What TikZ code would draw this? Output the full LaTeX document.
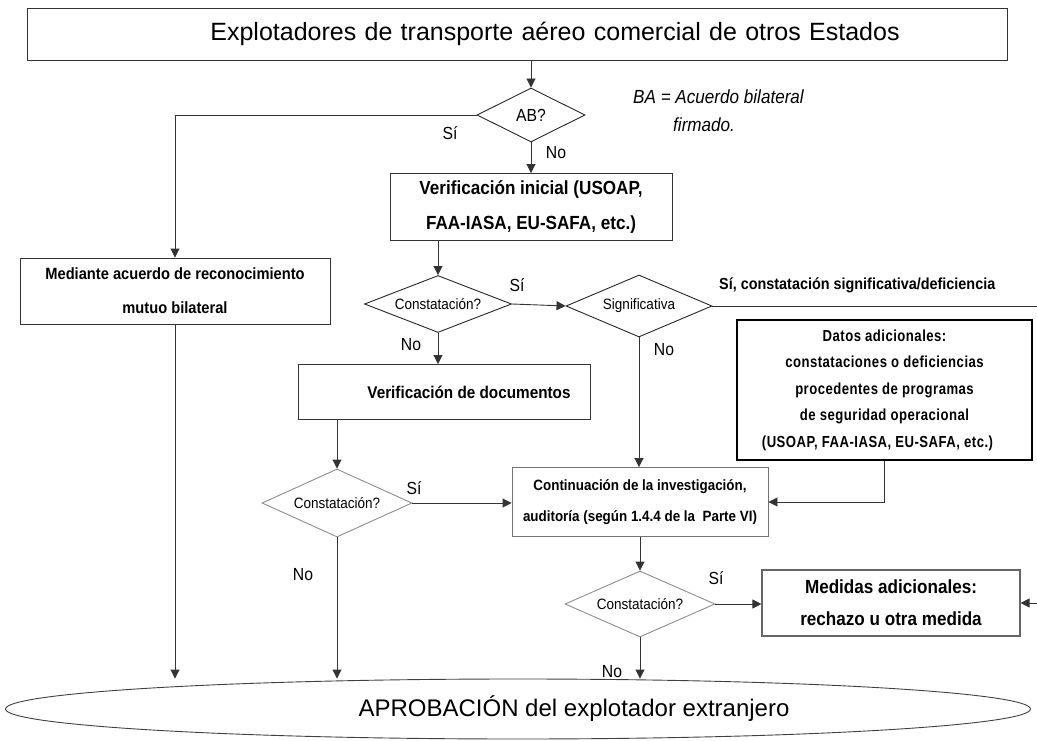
\documentclass[tikz,border=0pt]{standalone}
\usepackage{fontspec}
\setmainfont{Liberation Sans}
\newfontfamily\nar{Liberation Sans}[FakeStretch=0.9]
\newfontfamily\datosfont{Liberation Sans}[FakeStretch=0.82,LetterSpace=3]
\usetikzlibrary{shapes.geometric,arrows.meta}
\tikzset{
  box/.style={draw=black!80, line width=0.9pt, fill=white, align=center, inner sep=0pt},
  dia/.style={diamond, draw=black!85, line width=0.9pt, inner sep=0pt, font=\nar\fontsize{15}{17}\selectfont},
  gdia/.style={dia, draw=black!45},
  conn/.style={line width=0.9pt, draw=black!80, -{Triangle[length=9pt,width=9pt]}},
  lab/.style={font=\nar\fontsize{17.5}{20}\selectfont, inner sep=0pt},
}
\begin{document}
\begin{tikzpicture}[x=1pt,y=-1pt]
\useasboundingbox (0,0) rectangle (1037,741);
\clip (0,0) rectangle (1037,741);

\node[box, minimum width=980pt, minimum height=52pt, font=\fontsize{25}{28}\selectfont, text width=970pt] (top) at (517,34) {\hspace*{76pt}Explotadores de transporte aéreo comercial de otros Estados};
\node[dia, aspect=2, minimum width=108pt, minimum height=54pt, font=\nar\fontsize{17.5}{20}\selectfont] (ab) at (531,115) {AB?};
\node[box, minimum width=282pt, minimum height=67pt, font=\nar\bfseries\fontsize{19}{35}\selectfont] (ini) at (531,207) {Verificación inicial (USOAP,\\FAA-IASA, EU-SAFA, etc.)};
\node[box, minimum width=310pt, minimum height=66pt, font=\nar\bfseries\fontsize{16.3}{34}\selectfont] (med) at (175,291) {Mediante acuerdo de reconocimiento\\mutuo bilateral};
\node[dia, aspect=2.58, minimum width=147pt, minimum height=57pt] (c1) at (438,304) {Constatación?};
\node[dia, aspect=2.35, minimum width=146pt, minimum height=62pt] (sig) at (639,306) {Significativa};
\node[box, minimum width=292pt, minimum height=55pt, font=\nar\bfseries\fontsize{17}{20}\selectfont] (doc) at (444,392) {\hspace*{50pt}Verificación de documentos};
\node[box, line width=1.2pt, draw=black, minimum width=295pt, minimum height=140pt, font=\datosfont\bfseries\fontsize{16}{26.5}\selectfont] (datos) at (884.5,390) {Datos adicionales:\\constataciones o deficiencias\\procedentes de programas\\de seguridad operacional\\(USOAP, FAA-IASA, EU-SAFA, etc.)\hspace*{14pt}};
\node[gdia, aspect=2.2, minimum width=150pt, minimum height=68pt] (c2) at (337,503) {Constatación?};
\node[box, draw=black!55, minimum width=256pt, minimum height=69pt, font=\nar\bfseries\fontsize{14.9}{31}\selectfont] (cont) at (640,502) {Continuación de la investigación,\\auditoría (según 1.4.4 de la~ Parte VI)};
\node[gdia, aspect=2.27, minimum width=150pt, minimum height=66pt] (c3) at (640,604) {Constatación?};
\node[box, draw=black!60, line width=1.1pt, minimum width=258pt, minimum height=66pt, font=\nar\bfseries\fontsize{19}{32}\selectfont] (medidas) at (891,603) {Medidas adicionales:\\rechazo u otra medida};
\node[ellipse, draw=black!75, line width=0.9pt, minimum width=1025pt, minimum height=60pt, inner sep=0pt, font=\fontsize{24}{27}\selectfont] (apro) at (518,709) {\hspace*{112pt}APROBACIÓN del explotador extranjero};

% note
\node[lab, anchor=west, font=\nar\itshape\fontsize{19}{28}\selectfont, align=left] (note) at (633,111) {BA = Acuerdo bilateral\\\hspace*{40pt}firmado.};

% connectors
\draw[conn] (top.south -| ab.north) -- (ab.north);
\draw[conn] (ab.west) -| (med.north);
\draw[conn] (ab.south) -- (ini.north -| ab.south);
\draw[conn] (ini.south -| c1.north) -- (c1.north);
\draw[conn] (c1.east) -- (sig.west);
\draw[conn] (c1.south) -- (doc.north -| c1.south);
\draw[conn] (sig.south) -- (cont.north -| sig.south);
\coordinate (far) at (1060,306);
\draw[conn] (sig.east) -- (far) |- (medidas.east);
\coordinate (dturn) at (datos.south |- cont.east);
\draw[conn] (datos.south) -- (dturn) -- (cont.east);
\draw[conn] (doc.south -| c2.north) -- (c2.north);
\draw[conn] (c2.east) -- (cont.west |- c2.east);
\draw[conn] (cont.south -| c3.north) -- (c3.north);
\draw[conn] (c3.east) -- (medidas.west |- c3.east);
\draw[conn] (med.south) -- (med.south |- apro.north);
\draw[conn] (c2.south) -- (c2.south |- apro.north);
\draw[conn] (c3.south) -- (c3.south |- apro.north);

% labels
\node[lab] (l1) at (450,133) {Sí};
\node[lab] (l2) at (556,153) {No};
\node[lab] (l3) at (517,285) {Sí};
\node[lab] (l4) at (411,345) {No};
\node[lab, font=\nar\bfseries\fontsize{16}{18}\selectfont, anchor=west] (l5) at (719,285) {Sí, constatación significativa/deficiencia};
\node[lab] (l6) at (664,350) {No};
\node[lab] (l7) at (414,488) {Sí};
\node[lab] (l8) at (303,575) {No};
\node[lab] (l9) at (716,578) {Sí};
\node[lab] (l10) at (612,672) {No};
\end{tikzpicture}
\end{document}
